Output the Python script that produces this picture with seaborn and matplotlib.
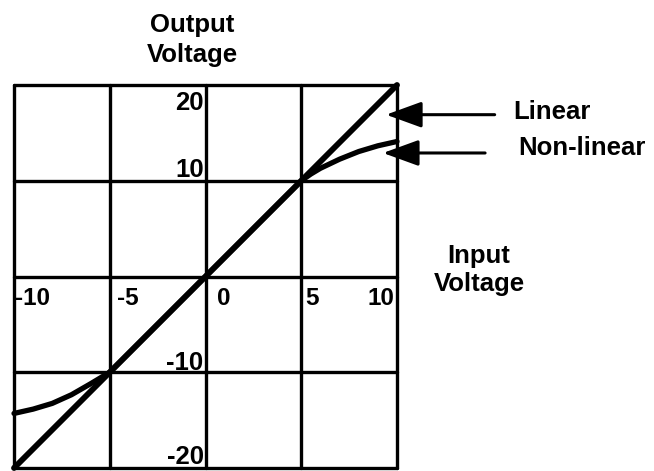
import matplotlib
matplotlib.use("Agg")
import matplotlib.pyplot as plt
import seaborn as sns
import pandas as pd

# Data
lin_x = [-10, 10]
lin_y = [-20, 20]
nl_x = [-10, -9, -8, -7, -6, -5, 0, 5, 5.5, 6, 7, 8, 9, 10]
nl_y = [-14.3, -13.85, -13.25, -12.35, -11.2, -10, 0, 10, 10.7, 11.3, 12.25, 13.05, 13.65, 14.1]
x_grid = [-10, -5, 0, 5, 10]
y_grid = [-20, -10, 0, 10, 20]
x_tick_labels = ["-10", "-5", "0", "5", "10"]
y_tick_labels = ["20", "10", "-10", "-20"]

sns.set_style("white")
plt.rcParams["font.family"] = ["Liberation Sans", "DejaVu Sans"]
plt.rcParams["font.weight"] = "bold"
plt.rcParams["text.color"] = "black"

W, H = 654, 471
fig = plt.figure(figsize=(W / 100, H / 100), dpi=100)
ax = fig.add_axes([14 / W, 3 / H, 383 / W, 383 / H])
ax.set_xlim(-10, 10)
ax.set_ylim(-20, 20)
ax.axis("off")

for xv in x_grid:
    ax.axvline(xv, color="black", lw=2.4, clip_on=False, zorder=1)
for yv in y_grid:
    ax.axhline(yv, color="black", lw=2.4, clip_on=False, zorder=1)

sns.lineplot(x=nl_x, y=nl_y, ax=ax, color="black", linewidth=3.8,
             solid_capstyle="round", solid_joinstyle="round",
             clip_on=False, zorder=3, sort=False)
sns.lineplot(x=lin_x, y=lin_y, ax=ax, color="black", linewidth=4.2,
             solid_capstyle="round", clip_on=False, zorder=3, sort=False)

fs = 18.5
# y tick labels (right-aligned near x=0 line)
y_label_pos = [18.1, 11.1, -9.0, -18.85]
for lab, yp in zip(y_tick_labels, y_label_pos):
    ax.text(-0.1, yp, lab, ha="right", va="center", fontsize=fs, fontweight="bold",
            color="black", zorder=2)

# x tick labels
x_label_pos = [-9.97, -4.6, 0.6, 5.2, 9.85]
x_ha = ["left", "left", "left", "left", "right"]
for lab, xp, ha in zip(x_tick_labels, x_label_pos, x_ha):
    ax.text(xp, -2.3, lab, ha=ha, va="center", fontsize=17.5, fontweight="bold",
            color="black", zorder=0)

# Arrows
arrow_style = "-|>,head_length=2.2,head_width=0.8"
ax.annotate("", xy=(9.43, 16.9), xytext=(15.1, 16.9),
            arrowprops=dict(arrowstyle=arrow_style, color="black", lw=2.2,
                            shrinkA=0, shrinkB=0), annotation_clip=False)
ax.annotate("", xy=(9.27, 12.9), xytext=(14.6, 12.9),
            arrowprops=dict(arrowstyle=arrow_style, color="black", lw=2.2,
                            shrinkA=0, shrinkB=0), annotation_clip=False)

tk = dict(fontsize=fs, fontweight="bold", color="black")
fig.text(513 / W, 1 - 112 / H, "Linear", ha="left", va="center", **tk)
fig.text(518 / W, 1 - 148 / H, "Non-linear", ha="left", va="center", **tk)
fig.text(192 / W, 1 - 40 / H, "Output\nVoltage", ha="center", va="center",
         linespacing=1.3, **tk)
fig.text(479 / W, 1 - 270 / H, "Input\nVoltage", ha="center", va="center",
         linespacing=1.22, **tk)

fig.savefig("out.png", dpi=100)
